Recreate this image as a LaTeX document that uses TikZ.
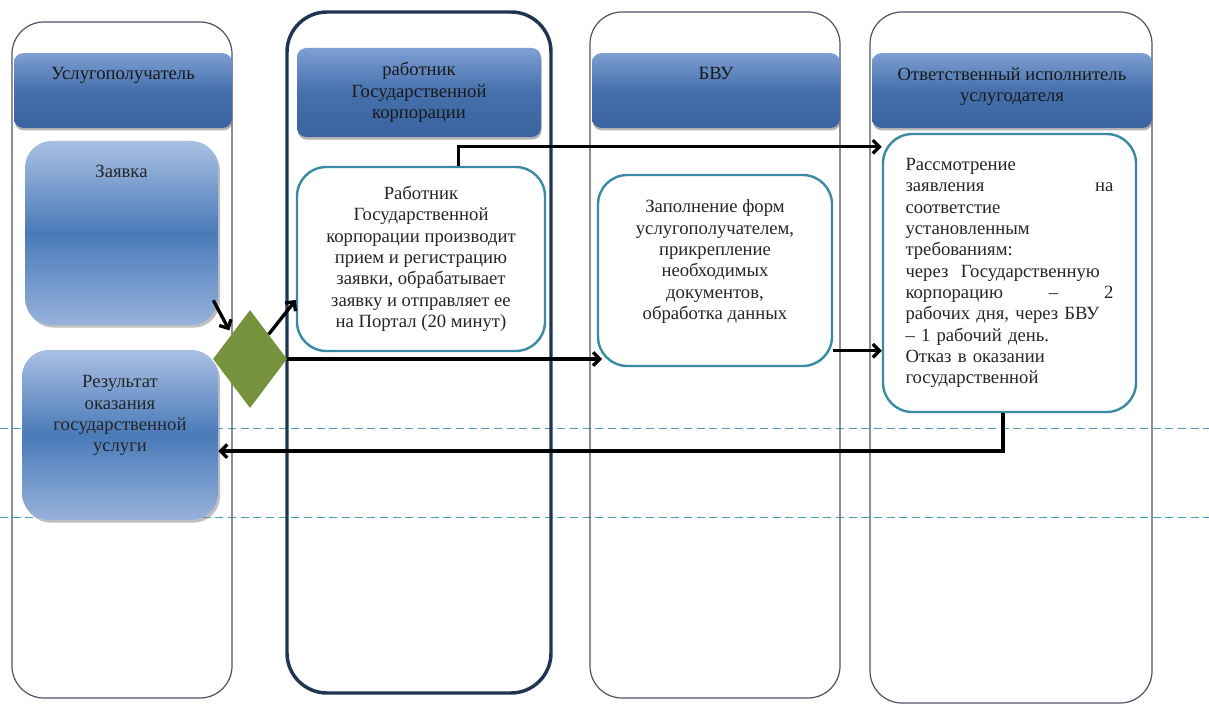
\documentclass[tikz,border=0pt]{standalone}
\usepackage{fontspec}
\setmainfont{Liberation Serif}
\usetikzlibrary{positioning, arrows.meta, calc, shapes.geometric, shadows}
\definecolor{laneline}{HTML}{4A5563}
\definecolor{lanenavy}{HTML}{1F3552}
\definecolor{hdrlight}{HTML}{7E9FD2}
\definecolor{hdrmid}{HTML}{4570AD}
\definecolor{hdrdark}{HTML}{3A639E}
\definecolor{boxlight}{HTML}{A9C0E3}
\definecolor{boxmid}{HTML}{4A7AB9}
\definecolor{frame}{HTML}{3A8AA3}
\definecolor{gate}{HTML}{76923C}
\definecolor{sepline}{HTML}{4A9FB8}
\newcommand{\just}[1]{\makebox[\linewidth][s]{#1}}

\begin{document}
\begin{tikzpicture}[x=0.75pt, y=-0.75pt,
      every node/.style={font=\fontsize{14}{16}\selectfont, text=black!85},
      lane/.style={draw=laneline, line width=0.9pt, rounded corners=24pt},
      header/.style={rounded corners=7pt, top color=hdrlight, bottom color=hdrdark,
        middle color=hdrmid, align=center, text=black!90,
        drop shadow={shadow xshift=0.5pt, shadow yshift=-2pt, opacity=0.6}},
      bluebox/.style={rounded corners=20pt, top color=boxlight, bottom color=boxlight!80!boxmid,
        middle color=boxmid, align=center,
        drop shadow={shadow xshift=1.5pt, shadow yshift=-2pt, opacity=0.5}},
      stepbox/.style={draw=frame, line width=1.8pt, rounded corners=22pt, fill=white,
        align=center},
      gatenode/.style={diamond, fill=gate, inner sep=0pt,
        minimum width=55.5pt, minimum height=73.5pt},
      pfeil/.style={-{Straight Barb[length=5pt, width=10pt]}, line width=2.5pt, black},
      sep/.style={sepline, line width=0.7pt, dash pattern=on 6pt off 3.5pt}]
    \useasboundingbox (0,0) rectangle (1209,705);
    \fill[white] (0,0) rectangle (1209,705);

    % separators
    \draw[sep] (0,428) -- (1209,428);
    \draw[sep] (0,517) -- (1209,517);

    % lanes
    \node[lane, minimum width=165pt, minimum height=507pt] (lane1) at (122,360) {};
    \node[lane, draw=lanenavy, line width=2.6pt, rounded corners=30pt,
      minimum width=198pt, minimum height=510.75pt] (lane2) at (419,352.5) {};
    \node[lane, minimum width=187.5pt, minimum height=514.5pt] (lane3) at (715,355) {};
    \node[lane, minimum width=211.5pt, minimum height=518.25pt] (lane4) at (1011,357.5) {};

    % headers
    \node[header, minimum width=163.5pt, minimum height=56pt, text height=9pt, text depth=25pt]
      (hdr1) at (123,90.5) {Услугополучатель};
    \node[header, minimum width=183pt, minimum height=66.75pt]
      (hdr2) at (419,92.5) {работник\\Государственной\\корпорации};
    \node[header, minimum width=186pt, minimum height=56pt, text height=9pt, text depth=25pt]
      (hdr3) at (716,90.5) {БВУ};
    \node[header, minimum width=210pt, minimum height=56pt]
      (hdr4) at (1012,90.5) {Ответственный исполнитель\\услугодателя\\[-7pt]~};

    % steps
    \node[bluebox, minimum width=144.75pt, minimum height=138pt, text height=9pt, text depth=92pt]
      (antrag) at (121.5,233) {Заявка};
    \node[bluebox, minimum width=147pt, minimum height=127.5pt]
      (result) at (120,435) {Результат\\оказания\\государственной\\услуги\\~\\~};
    \node[gatenode] (weiche) at (250,359) {};
    \node[stepbox, minimum width=186pt, minimum height=138pt] (annahme) at (421,259)
      {Работник\\Государственной\\корпорации производит\\прием и регистрацию\\
       заявки, обрабатывает\\заявку и отправляет ее\\на Портал (20 минут)};
    \node[stepbox, minimum width=175.5pt, minimum height=143.25pt] (formen) at (715,270.5)
      {Заполнение форм\\услугополучателем,\\прикрепление\\необходимых\\документов,\\
       обработка данных\\~};
    \node[stepbox, minimum width=189.75pt, minimum height=208.5pt, text width=156pt, align=left]
      (pruefung) at (1009.5,273)
      {Рассмотрение\\заявления\hfill на\\соответстие\\установленным\\требованиям:\\
       \just{через \ Государственную}\\корпорацию\hfill –\hfill 2\\
       \just{рабочих дня, через БВУ}\\– 1 рабочий день.\\Отказ в оказании\\
       государственной};

    % connectors
    \coordinate (f5) at ($(formen.north east)!0.915!(formen.south east)$);
    \coordinate (r6) at ($(result.north east)!0.594!(result.south east)$);
    \draw[pfeil] ([shift={(-5,-25)}]antrag.south east) -- ([shift={(-2,-4)}]weiche.north west);
    \draw[pfeil] (weiche.north east) -- ($(annahme.south west)!0.28!(annahme.north west)$);
    \draw[pfeil] ($(annahme.north west)!0.65!(annahme.north east)$)
      |- ($(pruefung.north west)!0.05!(pruefung.south west)$);
    \draw[pfeil] (weiche.east) -- ([xshift=4pt]weiche.east -| formen.west);
    \draw[pfeil] (f5) -- (f5 -| pruefung.west);
    \draw[pfeil] ([xshift=-5pt]pruefung.south) |- (r6);
  \end{tikzpicture}
\end{document}
